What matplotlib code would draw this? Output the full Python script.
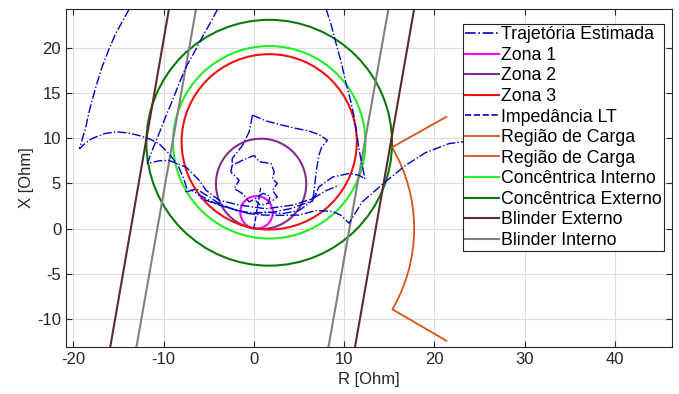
import numpy as np
import matplotlib
matplotlib.use("Agg")
import matplotlib.pyplot as plt
from matplotlib.patches import Circle, Arc
from matplotlib.lines import Line2D

plt.rcParams["font.family"] = ["Liberation Sans", "DejaVu Sans"]
plt.rcParams["axes.unicode_minus"] = False

# --- characteristic circles: (centre R, centre X, radius) ---
zona1 = (0.3, 1.8, 1.8)
zona2 = (0.8, 4.95, 5.0)
zona3 = (1.7, 9.6, 9.7)
conc_int = (1.7, 9.55, 10.65)
conc_ext = (1.7, 9.5, 13.6)

# --- line impedance ---
lt_r = [0.0, 0.75]
lt_x = [0.0, 4.5]

# --- load region (arc radius / angle, plus two outer rays) ---
carga_raio = 17.75
carga_ang = 30.4
carga_sup_r = [15.3, 21.3]
carga_sup_x = [9.0, 12.36]
carga_inf_r = [15.4, 21.3]
carga_inf_x = [-8.97, -12.4]

# --- blinders ---
blinder_x = [-13.1, 24.3]
blinder_ext_esq = [-15.9, -9.4]
blinder_ext_dir = [11.2, 17.75]
blinder_int_esq = [-13.0, -6.4]
blinder_int_dir = [8.26, 14.9]

# --- estimated trajectory, piecewise (R, X) ---
traj_1 = [(-13.8, 24.3), (-14.5, 23.0), (-15.3, 21.6), (-16.1, 19.7), (-16.8, 17.9),
          (-17.4, 16.0), (-17.9, 14.2), (-18.3, 12.7), (-18.6, 11.25), (-19.0, 9.9),
          (-19.3, 8.86), (-18.6, 9.5), (-17.9, 9.97), (-16.6, 10.5), (-15.3, 10.7),
          (-14.0, 10.6), (-12.7, 10.3), (-11.5, 9.9), (-10.5, 9.4), (-9.4, 8.3),
          (-8.4, 7.0), (-7.8, 5.6), (-7.4, 4.4), (-7.6, 4.0), (-6.4, 4.4),
          (-4.95, 3.5), (-3.84, 2.77), (-2.0, 2.0), (0.0, 1.7), (2.0, 1.8), (4.0, 2.2),
          (6.0, 2.9), (7.05, 3.9)]
traj_2 = [(-4.0, 24.3), (-4.8, 22.8), (-5.7, 21.2), (-6.6, 19.5), (-7.5, 17.9),
          (-8.3, 16.0), (-9.0, 14.2), (-9.8, 12.3), (-10.5, 10.5), (-11.2, 8.8),
          (-11.8, 7.2), (-10.5, 7.5), (-9.4, 7.55), (-7.5, 6.8), (-6.06, 5.35),
          (-5.3, 4.24), (-3.84, 3.14), (-1.6, 2.6), (1.3, 2.2), (4.3, 2.6), (6.5, 3.3),
          (8.0, 4.2), (9.45, 4.8)]
traj_3 = [(8.0, 24.3), (8.6, 22.4), (9.1, 20.5), (9.7, 18.3), (10.2, 16.1),
          (10.7, 14.2), (11.1, 12.4), (11.4, 10.5), (11.65, 8.7), (12.0, 7.0),
          (12.3, 5.5), (11.65, 5.9), (10.55, 6.1), (8.7, 5.7), (7.2, 4.6), (6.5, 3.1),
          (5.0, 2.0), (3.2, 1.66), (1.3, 1.84), (-0.5, 1.66), (-2.4, 2.2), (-4.5, 2.9),
          (-6.0, 3.7), (-7.0, 4.3)]
traj_4 = [(27.0, 10.8), (23.1, 9.6), (21.6, 9.4), (19.0, 8.4), (16.8, 7.0), (14.4, 5.05),
          (12.0, 2.95), (10.85, 1.1), (10.55, 0.6), (9.6, 1.5), (8.7, 1.9), (6.9, 2.0),
          (5.0, 1.5), (3.2, 1.47), (1.0, 1.5), (-0.52, 1.66), (-2.5, 2.2), (-3.8, 2.58),
          (-6.0, 3.4)]
traj_5 = [(-0.15, 12.55), (1.4, 11.9), (3.14, 11.45), (4.6, 11.1), (6.1, 10.8),
          (7.2, 10.4), (8.15, 9.78), (7.5, 9.0), (7.2, 8.1), (6.9, 6.27), (6.7, 4.43),
          (6.5, 2.95)]
traj_6 = [(-0.15, 12.55), (-0.52, 10.7), (-1.26, 9.2), (-2.4, 7.75), (-2.4, 7.0),
          (-1.26, 7.56), (0.03, 8.1), (0.6, 7.4), (1.9, 7.2), (2.25, 6.27), (2.06, 5.5),
          (2.6, 5.0), (2.06, 4.24), (2.6, 3.5), (1.8, 2.9)]
traj_7 = [(-2.4, 7.0), (-2.55, 6.27), (-1.63, 5.35), (-2.18, 4.43), (-1.26, 3.88),
          (-0.52, 2.95), (0.3, 3.4), (1.0, 3.9), (1.8, 3.6), (1.6, 2.8), (0.7, 2.6),
          (0.2, 3.1)]
traj_segs = [traj_1, traj_2, traj_3, traj_4, traj_5, traj_6, traj_7]

# colours
c_traj = "#0000cc"
c_z1 = "#ff00ff"
c_z2 = "#7e2f8e"
c_z3 = "#ee1111"
c_carga = "#d95319"
c_int = "#22ee22"
c_ext = "#0a7a0a"
c_bext = "#5b2c2c"
c_bint = "#808080"

fig = plt.figure(figsize=(6.79, 3.94), dpi=100)
ax = fig.add_axes([0.0972, 0.1193, 0.8925, 0.8579])

for seg in traj_segs:
    r, x = zip(*seg)
    ax.plot(r, x, color=c_traj, lw=1.0, ls="-.", zorder=3)

ax.plot(lt_r, lt_x, color=c_traj, lw=1.0, ls="--", zorder=3)

for (cr, cx, rad), col in [(zona1, c_z1), (zona2, c_z2), (zona3, c_z3),
                           (conc_int, c_int), (conc_ext, c_ext)]:
    ax.add_patch(Circle((cr, cx), rad, fill=False, ec=col, lw=1.5, zorder=2))

ax.plot(carga_sup_r, carga_sup_x, color=c_carga, lw=1.3)
ax.plot(carga_inf_r, carga_inf_x, color=c_carga, lw=1.3)
ax.add_patch(Arc((0, 0), 2 * carga_raio, 2 * carga_raio, theta1=-carga_ang,
                 theta2=carga_ang, ec=c_carga, lw=1.3))

ax.plot(blinder_ext_esq, blinder_x, color=c_bext, lw=1.5)
ax.plot(blinder_ext_dir, blinder_x, color=c_bext, lw=1.5)
ax.plot(blinder_int_esq, blinder_x, color=c_bint, lw=1.5)
ax.plot(blinder_int_dir, blinder_x, color=c_bint, lw=1.5)

ax.set_xlim(-20.8, 46.3)
ax.set_ylim(-13.1, 24.3)
ax.set_xticks(np.arange(-20, 41, 10))
ax.set_yticks(np.arange(-10, 21, 5))
ax.grid(True, color="#dcdcdc", lw=0.8)
ax.set_axisbelow(True)
for s in ax.spines.values():
    s.set_color("#262626")
    s.set_linewidth(0.8)
ax.tick_params(direction="in", top=True, right=True, length=4,
               labelsize=12, colors="#262626")
ax.set_xlabel("R [Ohm]", fontsize=12, color="#262626", labelpad=4)
ax.set_ylabel("X [Ohm]", fontsize=12, color="#262626", labelpad=2)

handles = [
    Line2D([], [], color=c_traj, ls="-.", lw=1.2, label="Trajetória Estimada"),
    Line2D([], [], color=c_z1, lw=1.5, label="Zona 1"),
    Line2D([], [], color=c_z2, lw=1.5, label="Zona 2"),
    Line2D([], [], color=c_z3, lw=1.5, label="Zona 3"),
    Line2D([], [], color=c_traj, ls="--", lw=1.2, label="Impedância LT"),
    Line2D([], [], color=c_carga, lw=1.3, label="Região de Carga"),
    Line2D([], [], color=c_carga, lw=1.3, label="Região de Carga"),
    Line2D([], [], color=c_int, lw=1.5, label="Concêntrica Interno"),
    Line2D([], [], color=c_ext, lw=1.5, label="Concêntrica Externo"),
    Line2D([], [], color=c_bext, lw=1.5, label="Blinder Externo"),
    Line2D([], [], color=c_bint, lw=1.5, label="Blinder Interno"),
]
leg = ax.legend(handles=handles, loc="upper right", fontsize=12.8,
                bbox_to_anchor=(0.9865, 0.955), framealpha=1, fancybox=False,
                edgecolor="#262626", handlelength=1.9, handletextpad=0.1,
                labelspacing=0.2, borderpad=0.12, borderaxespad=0.0)
leg.get_frame().set_linewidth(0.8)
leg.set_zorder(5)

fig.savefig("out.png", dpi=100)
